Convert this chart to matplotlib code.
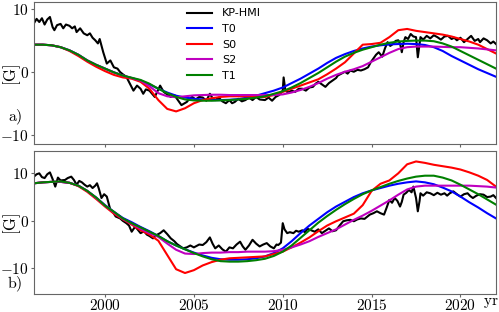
import matplotlib
matplotlib.use('Agg')
import matplotlib.pyplot as plt
import numpy as np
from matplotlib.ticker import FuncFormatter

plt.rcParams['mathtext.fontset'] = 'cm'

# model curves, sampled every half year
years = np.arange(1996.0, 2022.01, 0.5)

# panel a)
t0_a = [4.4, 4.4, 4.3, 4.0, 3.5, 2.8, 1.9, 1.2, 0.6, 0.0, -0.5, -0.9, -1.3, -1.9, -2.6, -3.2,
        -3.7, -4.0, -4.2, -4.3, -4.4, -4.4, -4.35, -4.25, -4.0, -3.7, -3.3, -2.9, -2.4, -1.7,
        -1.0, -0.2, 0.6, 1.5, 2.3, 2.9, 3.4, 3.8, 4.1, 4.3, 4.45, 4.5, 4.55, 4.5, 4.35, 4.0,
        3.4, 2.6, 1.9, 1.2, 0.5, -0.1, -0.7]
s0_a = [4.4, 4.4, 4.3, 4.0, 3.4, 2.6, 1.7, 0.9, 0.2, -0.4, -0.8, -1.0, -1.5, -2.6, -4.4, -5.8,
        -6.2, -5.7, -4.9, -4.4, -4.1, -3.9, -3.8, -3.8, -3.8, -3.9, -3.9, -3.6, -3.1, -2.6,
        -2.1, -1.6, -1.1, -0.3, 0.6, 1.6, 3.0, 4.4, 4.5, 4.7, 5.6, 6.7, 6.9, 6.6, 6.4, 6.2,
        6.0, 5.7, 5.3, 4.9, 4.4, 3.7, 3.0]
s2_a = [4.4, 4.4, 4.3, 4.0, 3.5, 2.8, 1.9, 1.2, 0.6, 0.0, -0.5, -0.9, -1.3, -2.2, -3.3, -3.8,
        -3.95, -3.8, -3.65, -3.6, -3.55, -3.55, -3.6, -3.6, -3.6, -3.6, -3.6, -3.6, -3.5,
        -3.2, -2.8, -2.3, -1.7, -1.0, -0.4, 0.1, 0.5, 1.0, 1.7, 2.4, 3.1, 3.7, 4.0, 4.1, 4.1,
        4.1, 4.05, 4.0, 4.0, 3.9, 3.8, 3.65, 3.5]
t1_a = [4.4, 4.4, 4.3, 4.0, 3.5, 2.8, 1.9, 1.2, 0.6, 0.0, -0.5, -0.85, -1.2, -1.8, -2.6, -3.3,
        -3.9, -4.3, -4.45, -4.5, -4.5, -4.45, -4.4, -4.3, -4.2, -4.0, -3.8, -3.4, -3.0, -2.4,
        -1.7, -0.9, -0.1, 0.8, 1.7, 2.5, 3.1, 3.6, 4.0, 4.4, 4.7, 4.9, 5.0, 5.05, 5.05, 4.95,
        4.6, 4.1, 3.4, 2.7, 2.0, 1.3, 0.6]

# panel b)
t0_b = [7.9, 8.1, 8.2, 8.2, 8.0, 7.4, 6.3, 4.9, 3.3, 1.9, 0.6, -0.3, -1.3, -2.2, -3.2, -4.3,
        -5.2, -6.0, -6.7, -7.3, -7.8, -8.1, -8.2, -8.2, -8.1, -7.9, -7.5, -6.8, -5.8, -4.3,
        -2.6, -1.0, 0.4, 1.8, 3.0, 4.0, 5.0, 5.8, 6.4, 6.9, 7.4, 7.8, 8.1, 8.3, 8.1, 7.7,
        7.0, 6.2, 5.1, 3.9, 2.8, 1.6, 0.5]
s0_b = [7.9, 8.1, 8.2, 8.2, 8.0, 7.3, 6.1, 4.6, 3.0, 1.5, 0.3, -0.8, -2.0, -2.9, -4.2, -7.2,
        -10.2, -11.0, -10.4, -9.4, -8.7, -8.2, -7.9, -7.8, -7.7, -7.6, -7.5, -7.0, -6.5,
        -5.6, -4.6, -3.5, -2.2, -1.0, -0.1, 0.7, 1.5, 3.3, 6.3, 7.8, 8.5, 10.0, 11.9, 12.5,
        12.2, 11.8, 11.5, 11.2, 10.8, 10.2, 9.5, 8.6, 7.2]
s2_b = [7.9, 8.1, 8.2, 8.2, 8.0, 7.4, 6.3, 4.8, 3.2, 1.8, 0.4, -0.6, -1.7, -2.6, -3.4, -4.8,
        -6.1, -6.9, -7.0, -6.8, -6.7, -6.7, -6.6, -6.6, -6.5, -6.5, -6.5, -6.4, -6.1, -5.6,
        -5.0, -4.3, -3.4, -2.6, -1.8, -0.8, 0.2, 1.1, 2.1, 3.2, 4.3, 5.5, 6.6, 7.2, 7.4, 7.4,
        7.4, 7.4, 7.4, 7.4, 7.3, 7.2, 7.0]
t1_b = [7.9, 8.1, 8.2, 8.3, 8.0, 7.4, 6.3, 4.9, 3.2, 1.9, 0.5, -0.5, -1.4, -2.3, -3.2, -4.3,
        -5.2, -6.0, -6.8, -7.5, -8.1, -8.5, -8.6, -8.6, -8.5, -8.3, -8.0, -7.4, -6.5, -5.2,
        -3.6, -2.0, -0.4, 1.0, 2.3, 3.5, 4.6, 5.6, 6.4, 7.1, 7.8, 8.4, 8.9, 9.3, 9.5, 9.5,
        9.1, 8.5, 7.6, 6.6, 5.6, 4.5, 3.4]

# KP-HMI observations, panel a)
obs_t_a = [1996.0, 1996.15, 1996.3, 1996.45, 1996.6, 1996.75, 1996.9, 1997.05, 1997.15, 1997.3,
           1997.5, 1997.65, 1997.8, 1998.0, 1998.15, 1998.3, 1998.4, 1998.6, 1998.8, 1999.0,
           1999.15, 1999.3, 1999.45, 1999.6, 1999.7, 1999.9, 2000.1, 2000.3, 2000.5, 2000.7,
           2000.85, 2001.0, 2001.2, 2001.4, 2001.6, 2001.8, 2002.0, 2002.15, 2002.3, 2002.5,
           2002.65, 2002.8, 2002.95, 2003.1, 2003.3, 2003.5, 2003.7, 2003.9, 2004.1, 2004.3,
           2004.6, 2004.75, 2004.9, 2005.1, 2005.3, 2005.5, 2005.7, 2005.9, 2006.05, 2006.2,
           2006.4, 2006.6, 2006.8, 2007.0, 2007.15, 2007.3, 2007.5, 2007.7, 2007.9, 2008.1,
           2008.3, 2008.5, 2008.7, 2009.0, 2009.2, 2009.4, 2009.6, 2009.8, 2010.0, 2010.05,
           2010.15, 2010.3, 2010.5, 2010.7, 2010.9, 2011.1, 2011.3, 2011.5, 2011.7, 2011.85,
           2012.0, 2012.2, 2012.4, 2012.6, 2012.8, 2013.0, 2013.1, 2013.3, 2013.5, 2013.65,
           2013.8, 2014.0, 2014.2, 2014.4, 2014.6, 2014.8, 2014.95, 2015.1, 2015.25, 2015.4,
           2015.6, 2015.75, 2015.9, 2016.05, 2016.2, 2016.35, 2016.5, 2016.6, 2016.7, 2016.8,
           2016.9, 2017.05, 2017.2, 2017.35, 2017.5, 2017.6, 2017.7, 2017.75, 2017.9, 2018.1,
           2018.3, 2018.5, 2018.7, 2018.9, 2019.1, 2019.3, 2019.5, 2019.65, 2019.8, 2020.0,
           2020.2, 2020.4, 2020.6, 2020.8, 2021.0, 2021.1, 2021.3, 2021.5, 2021.7, 2021.85,
           2022.0]
obs_a = [7.8, 8.5, 8.0, 8.6, 7.6, 8.4, 8.8, 7.2, 6.7, 7.5, 7.7, 7.0, 7.6, 7.4, 7.0, 7.3, 6.4,
         7.0, 6.2, 5.9, 6.2, 5.5, 5.1, 4.6, 5.3, 3.2, 1.4, 1.9, 0.8, 0.6, 0.05, -0.3, -0.7,
         -1.8, -2.9, -2.1, -2.6, -3.4, -2.7, -2.9, -3.4, -3.9, -3.0, -2.1, -3.1, -3.5, -3.9,
         -3.6, -4.4, -5.2, -4.7, -4.2, -3.9, -4.3, -3.9, -4.0, -4.5, -3.4, -4.1, -4.4, -4.0,
         -4.6, -4.9, -4.4, -4.9, -4.7, -4.2, -4.6, -4.4, -4.0, -4.4, -3.9, -4.3, -4.4, -4.0,
         -4.5, -3.9, -3.6, -2.9, -0.8, -2.9, -3.2, -2.9, -3.1, -2.6, -2.6, -2.9, -2.4, -2.3,
         -1.8, -1.5, -1.9, -2.3, -1.7, -1.3, -0.9, -0.5, -0.2, 0.1, -0.2, 0.3, 0.1, 0.4, 0.3,
         0.5, 0.8, 1.6, 2.2, 2.8, 3.2, 2.5, 3.8, 4.8, 4.2, 4.5, 5.0, 5.1, 4.6, 3.2, 4.8, 5.6,
         5.3, 6.1, 5.7, 5.6, 2.4, 4.5, 5.6, 5.2, 5.8, 5.4, 5.9, 5.6, 5.2, 5.7, 5.8, 5.3, 5.5,
         5.1, 5.5, 4.8, 5.3, 5.8, 5.0, 5.3, 4.8, 5.4, 5.1, 4.6, 4.9, 4.5]

# KP-HMI observations, panel b)
obs_t_b = [1996.0, 1996.15, 1996.3, 1996.45, 1996.6, 1996.75, 1996.9, 1997.05, 1997.2, 1997.35,
           1997.5, 1997.75, 1997.9, 1998.1, 1998.25, 1998.4, 1998.55, 1998.7, 1998.85, 1999.0,
           1999.15, 1999.3, 1999.45, 1999.55, 1999.65, 1999.8, 1999.95, 2000.1, 2000.3, 2000.45,
           2000.6, 2000.85, 2001.0, 2001.2, 2001.35, 2001.5, 2001.7, 2001.85, 2002.0, 2002.2,
           2002.35, 2002.5, 2002.7, 2002.9, 2003.1, 2003.3, 2003.5, 2003.7, 2003.9, 2004.05,
           2004.2, 2004.4, 2004.6, 2004.8, 2005.0, 2005.1, 2005.3, 2005.5, 2005.7, 2005.9,
           2006.05, 2006.2, 2006.4, 2006.6, 2006.8, 2007.0, 2007.2, 2007.4, 2007.6, 2007.75,
           2007.9, 2008.1, 2008.3, 2008.5, 2008.7, 2008.9, 2009.1, 2009.3, 2009.5, 2009.65,
           2009.75, 2009.9, 2010.0, 2010.1, 2010.25, 2010.4, 2010.6, 2010.75, 2010.9, 2011.1,
           2011.25, 2011.4, 2011.6, 2011.8, 2012.0, 2012.2, 2012.4, 2012.6, 2012.8, 2013.0,
           2013.2, 2013.4, 2013.6, 2013.8, 2014.0, 2014.2, 2014.4, 2014.6, 2014.9, 2015.1,
           2015.3, 2015.5, 2015.7, 2015.85, 2016.0, 2016.15, 2016.3, 2016.45, 2016.6, 2016.7,
           2016.8, 2016.95, 2017.1, 2017.25, 2017.35, 2017.5, 2017.6, 2017.7, 2017.75, 2017.9,
           2018.1, 2018.3, 2018.5, 2018.7, 2018.9, 2019.1, 2019.25, 2019.4, 2019.6, 2019.8,
           2020.0, 2020.2, 2020.4, 2020.55, 2020.7, 2020.9, 2021.1, 2021.3, 2021.5, 2021.7,
           2021.85, 2022.0]
obs_b = [9.3, 9.8, 10.0, 9.2, 9.0, 9.8, 10.2, 8.8, 7.2, 9.1, 8.5, 8.6, 9.0, 9.3, 8.6, 7.6,
         8.4, 8.1, 7.6, 7.2, 7.5, 6.9, 7.4, 7.9, 6.8, 4.8, 5.6, 5.1, 2.3, 1.8, 0.9, 0.5, 0.0,
         -0.5, -1.0, -2.3, -1.2, -1.9, -2.6, -2.2, -2.9, -3.2, -3.7, -3.0, -2.6, -2.0, -2.8,
         -3.7, -4.3, -4.9, -5.3, -5.8, -5.6, -5.2, -5.6, -5.4, -5.0, -5.1, -4.5, -3.5, -4.8,
         -5.8, -5.2, -6.0, -6.5, -5.6, -5.8, -5.0, -4.4, -5.4, -6.1, -5.2, -4.0, -4.8, -5.4,
         -5.0, -4.7, -5.4, -5.8, -5.0, -5.1, -4.6, -0.5, -1.8, -2.6, -2.4, -2.6, -2.1, -2.3,
         -2.0, -2.4, -1.7, -2.0, -2.3, -1.8, -2.6, -2.1, -1.6, -2.2, -2.0, -1.0, -0.1, 0.1,
         0.2, -0.1, 0.3, 0.5, 0.4, 1.3, 1.6, 2.0, 1.6, 1.3, 2.8, 4.4, 3.8, 4.8, 4.2, 3.0, 4.0,
         5.5, 5.9, 6.5, 6.0, 7.2, 4.8, 2.0, 4.2, 5.8, 5.3, 6.0, 5.8, 5.4, 5.9, 5.5, 5.8, 5.3,
         5.8, 6.2, 5.6, 5.1, 5.6, 5.8, 5.2, 4.8, 5.3, 5.6, 5.5, 5.0, 5.1, 5.4, 4.8]

labels = ['KP-HMI', 'T0', 'S0', 'S2', 'T1']
colors = ['k', 'b', 'r', 'm', 'g']
xticks = [2000, 2005, 2010, 2015, 2020]
yticks = [-10, 0, 10]

fig = plt.figure(figsize=(4.99, 3.12), dpi=100)
ax1 = fig.add_axes([0.068, 0.538, 0.926, 0.456])
ax2 = fig.add_axes([0.068, 0.058, 0.926, 0.458])

panels = [(ax1, obs_t_a, obs_a, [t0_a, s0_a, s2_a, t1_a], (-11.4, 11.2)),
          (ax2, obs_t_b, obs_b, [t0_b, s0_b, s2_b, t1_b], (-15.4, 14.7))]

fmt = FuncFormatter(lambda v, p: r'$%d$' % v)
for ax, ot, ov, models, ylim in panels:
    ax.plot(ot, ov, color=colors[0], lw=1.5, label=labels[0])
    for m, c, lab in zip(models, colors[1:], labels[1:]):
        ax.plot(years, m, color=c, lw=1.5, label=lab)
    ax.set_xlim(1996, 2022)
    ax.set_ylim(*ylim)
    ax.set_xticks(xticks)
    ax.set_yticks(yticks)
    ax.xaxis.set_major_formatter(fmt)
    ax.yaxis.set_major_formatter(fmt)
    ax.tick_params(labelsize=11, length=2.5, pad=1.0, color='0.4')
    ax.tick_params(axis='x', pad=0.3)
    for s in ax.spines.values():
        s.set_color('0.4')
    ax.set_ylabel(r'$[\mathrm{G}]$', fontsize=12, va='center')
    ax.yaxis.set_label_coords(-0.048, 0.49)

ax1.tick_params(labelbottom=False)
ax1.legend(loc='upper left', bbox_to_anchor=(0.322, 0.985), frameon=False, fontsize=8,
           handlelength=2.25, handletextpad=0.9, labelspacing=0.5, borderaxespad=0)

fig.text(15 / 499, 1 - 117 / 312, r'$\mathrm{a)}$', fontsize=11.5, ha='center', va='center')
fig.text(15 / 499, 1 - 284 / 312, r'$\mathrm{b)}$', fontsize=11.5, ha='center', va='center')
fig.text(491 / 499, 1 - 303 / 312, r'$\mathrm{yr}$', fontsize=11, ha='center', va='center')

fig.savefig('out.png', dpi=100)
